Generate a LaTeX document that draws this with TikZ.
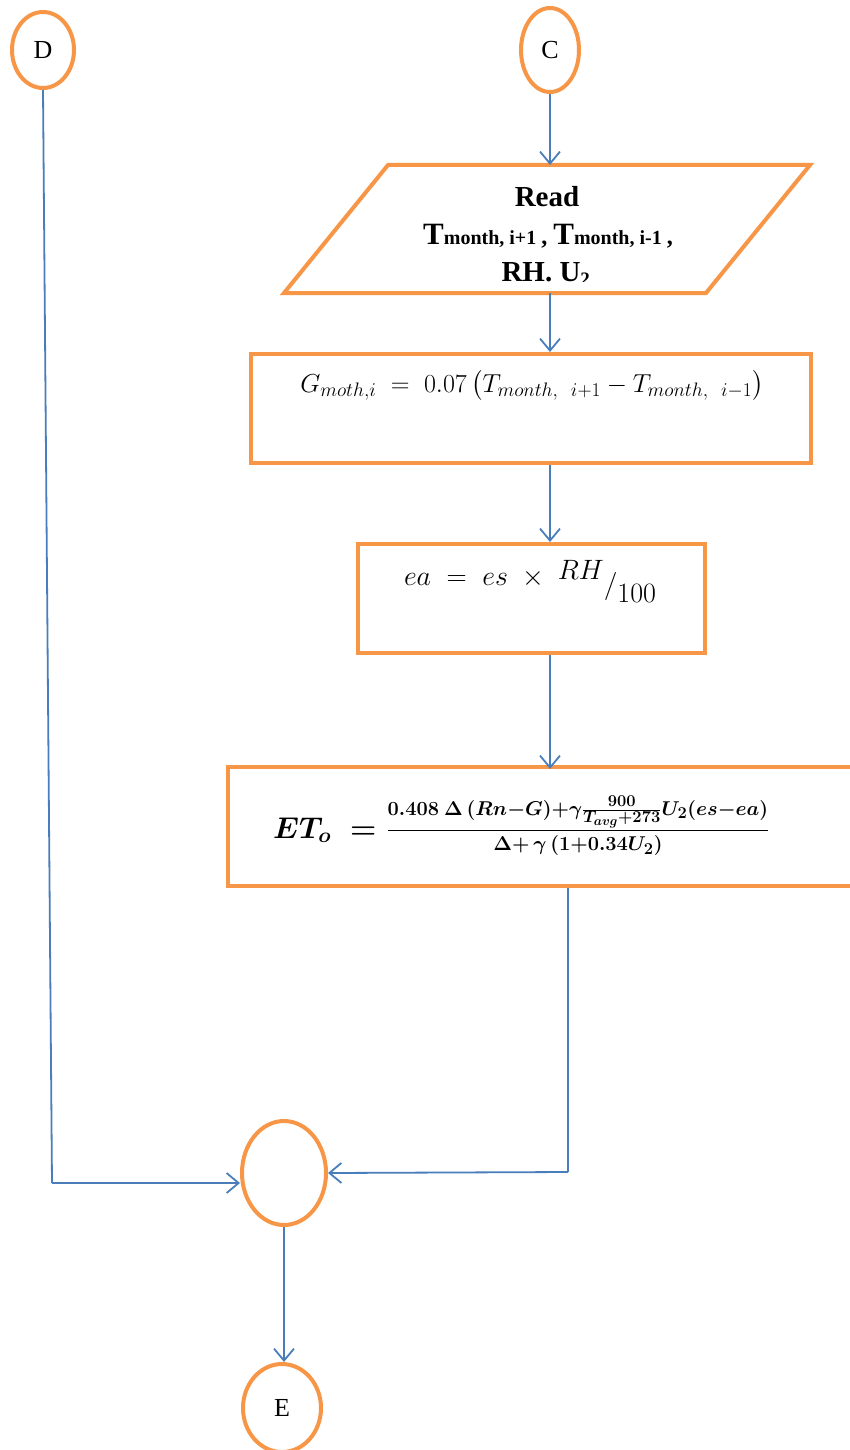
\RequirePackage{fix-cm}
\documentclass[tikz,border=0pt]{standalone}
\usepackage{amsmath}
\usepackage[no-math]{fontspec}
\setmainfont{Liberation Serif}
\usetikzlibrary{arrows.meta,shapes.geometric}
\definecolor{borange}{HTML}{F79646}
\definecolor{lblue}{HTML}{4A7EBB}
\DeclareMathSizes{26}{26}{19.5}{15}
\DeclareMathSizes{20}{20}{16.5}{13}
\newcommand{\etnum}{0.408\ \Delta\,(Rn{-}G){+}\gamma\frac{900}{T_{avg}+273}U_2(es{-}ea)}
\newcommand{\etden}{\Delta{+}\,\gamma\,(1{+}0.34U_2)}
\tikzset{
  oval/.style={ellipse,draw=borange,line width=4pt,inner sep=0pt,font=\fontsize{26}{30}\selectfont},
  procbox/.style={draw=borange,line width=4pt,inner sep=0pt},
  conn/.style={draw=lblue,line width=1.8pt},
  connarr/.style={conn,-{Straight Barb[length=12pt,width=20pt]}},
}
\begin{document}
\begin{tikzpicture}[x=1pt,y=-1pt]
\useasboundingbox (0,0) rectangle (849,1450);
\fill[white] (0,0) rectangle (849,1450);
% terminals
\node[oval,minimum width=62pt,minimum height=76pt] (D) at (43,50) {D};
\node[oval,minimum width=58pt,minimum height=84pt] (C) at (550,50) {C};
\node[oval,minimum width=84pt,minimum height=104pt] (mid) at (284,1173) {};
\node[oval,minimum width=78pt,minimum height=88pt] (E) at (282,1408) {E};
% read parallelogram
\draw[draw=borange,line width=4pt,line join=miter] (388,165) -- (810,165) -- (706,293) -- (284,293) -- cycle;
\coordinate (readtop) at (550,165);
\coordinate (readbot) at (550,293);
\node[font=\bfseries\fontsize{29}{32}\selectfont] (readt) at (547,197) {Read};
\node[font=\bfseries] (readv) at (548,236) {\fontsize{31}{32}\selectfont T\fontsize{20}{20}\selectfont month, i+1 \fontsize{24}{28}\selectfont, \fontsize{31}{32}\selectfont T\fontsize{20}{20}\selectfont month, i-1 \fontsize{24}{28}\selectfont,};
\begin{scope}
\clip (280,250) rectangle (820,281);
\node[font=\bfseries\fontsize{29}{32}\selectfont,anchor=base] (readw) at (546,281.5) {RH. U\textsubscript{\fontsize{19}{20}\selectfont 2}};
\end{scope}
% G box
\node[procbox,minimum width=560pt,minimum height=109pt] (gbox) at (531,408.5) {};
\node[font=\fontsize{26}{30}\selectfont,anchor=base] (gform) at (532,392) {$G_{moth,i} \;=\; 0.07\,\bigl(T_{month,\ \ i+1} - T_{month,\ \ i-1}\bigr)$};
% ea box
\node[procbox,minimum width=347pt,minimum height=109pt] (eabox) at (531.5,598.5) {};
\node[font=\fontsize{28}{32}\selectfont,anchor=base] (eaform) at (530,585) {$ea \;=\; es \;\times\; \raisebox{0.4ex}{$RH$}\raisebox{-0.65ex}{$/$}\raisebox{-1.4ex}{$100$}$};
% ET box
\node[procbox,minimum width=626pt,minimum height=119pt] (etbox) at (541,826.5) {};
\node[font=\fontsize{30}{34}\selectfont\boldmath,anchor=east] (etlhs) at (380,830) {$ET_o \;=$};
\node[font=\fontsize{20}{24}\selectfont\boldmath,anchor=west] (etrhs) at (383,826) {$\displaystyle\frac{\etnum}{\etden}$};
% connectors
\draw[connarr] (C) -- (readtop);
\draw[connarr] (readbot) -- (gbox.north -| readbot);
\draw[connarr] (gbox.south -| readbot) -- (eabox.north -| readbot);
\draw[connarr] (eabox.south -| readbot) -- ([yshift=-4pt]etbox.north -| readbot);
\coordinate (dcorner) at (52,1183);
\coordinate (ecorner) at (568,1172);
\draw[conn] (D.south) -- (dcorner);
\draw[connarr] (dcorner) -- (dcorner -| mid.west);
\draw[conn] (etbox.south -| ecorner) -- (ecorner);
\draw[connarr] (ecorner) -- (mid.east);
\draw[connarr] (mid.south) -- (mid.south |- E.north);
\end{tikzpicture}
\end{document}
